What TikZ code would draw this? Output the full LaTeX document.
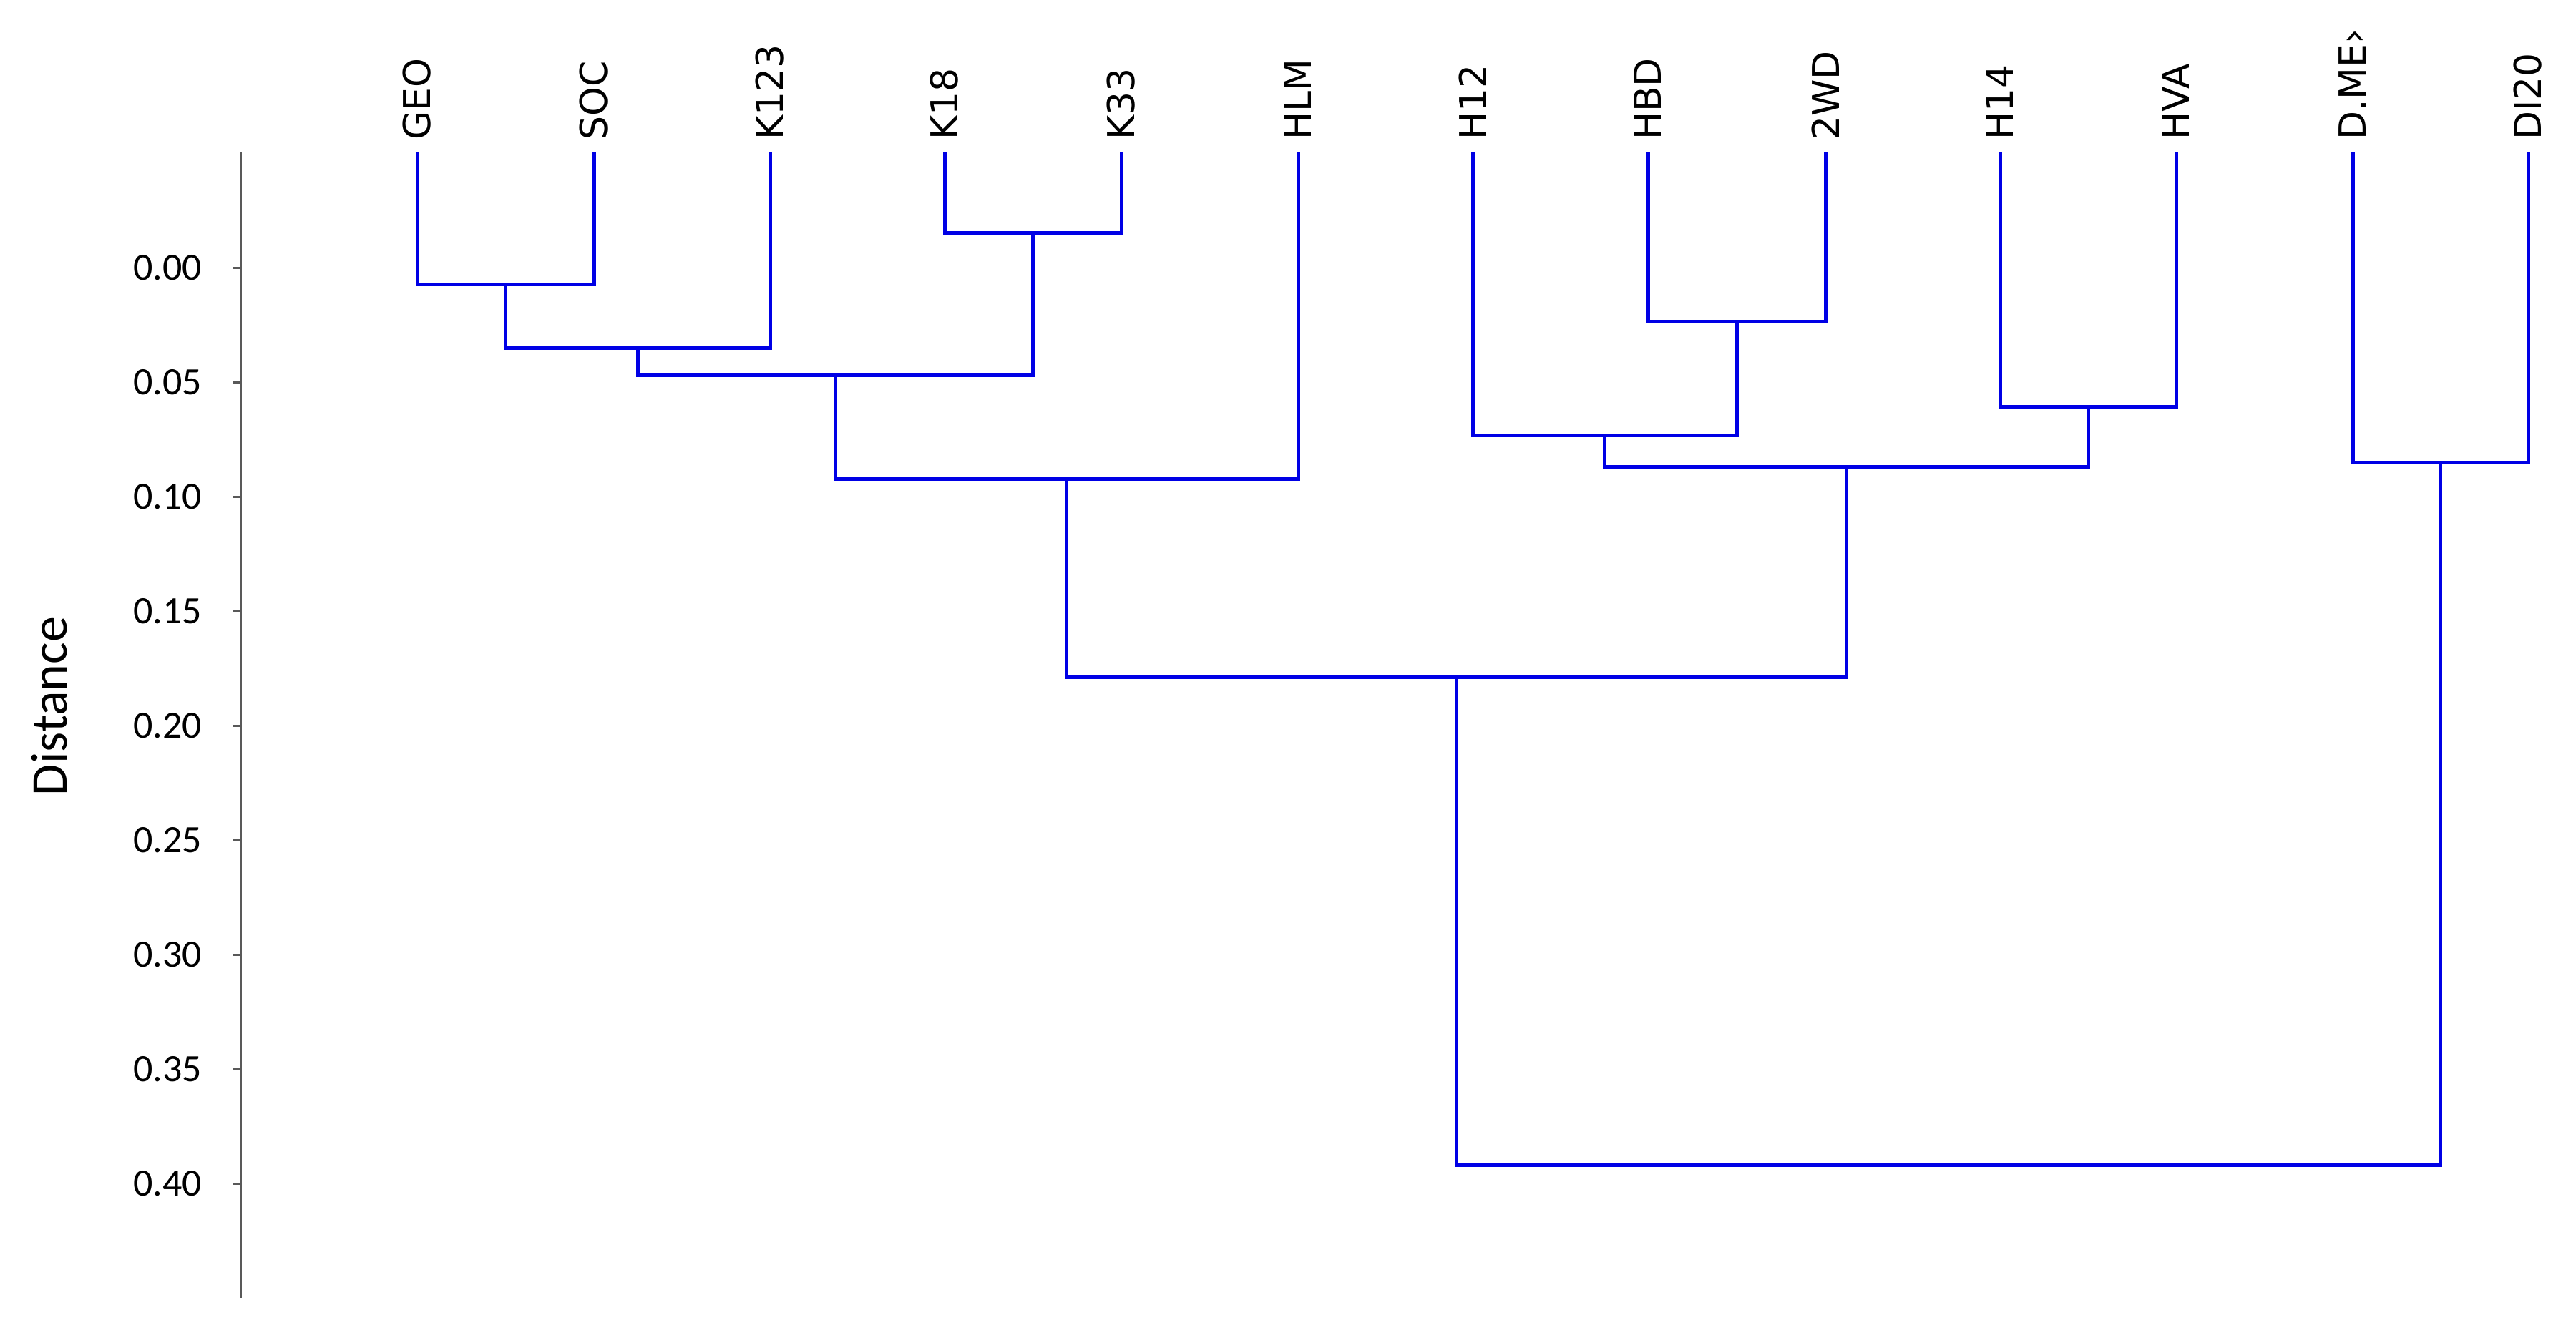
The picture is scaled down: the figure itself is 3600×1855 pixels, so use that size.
\documentclass[tikz,border=0pt]{standalone}
\usepackage{fontspec}
\setmainfont{DejaVu Sans}
\newfontfamily\tickfont{Carlito}
\begin{document}
\begin{tikzpicture}[x=1pt,y=-1pt,
  br/.style={draw=blue!90!black,line width=5pt},
  leaf/.style={rotate=90,anchor=west,inner sep=0pt,font=\fontsize{52}{52}\selectfont},
  tick/.style={anchor=east,inner sep=0pt,font=\tickfont\fontsize{54}{54}\selectfont}]
\path[use as bounding box] (0,0) rectangle (3600,1855);
% axis
\draw[gray!70!black,line width=3pt] (336,213) -- (336,1814);
\foreach \v/\l [count=\i from 0] in {0.00,0.05,0.10,0.15,0.20,0.25,0.30,0.35,0.40}{
  \draw[gray!70!black,line width=3pt] (326,374+160*\i) -- (336,374+160*\i);
  \node[tick] (t\i) at (282,374+160*\i) {\v};
}
\node[rotate=90,font=\tickfont\fontsize{72}{72}\selectfont] (dist) at (69,987) {Distance};
% leaves
\foreach \n/\x/\t in {geo/583/GEO,soc/830/SOC,k123/1076/K123,k18/1320/K18,k33/1567/K33,hlm/1814/HLM,h12/2058/H12,hbd/2303/HBD,wd/2551/2WD,h14/2795/H14,hva/3041/HVA,dme/3288/D.ME›,di/3533/DI20}{
  \coordinate (\n) at (\x,213);
  \node[leaf] (l\n) at (\x,196) {\t};
}
% merges
\coordinate (m1) at (706,397);
\coordinate (m2) at (1443,325);
\coordinate (m3) at (891,486);
\coordinate (m4) at (1167,524);
\coordinate (m5) at (1490,669);
\coordinate (m6) at (2427,449);
\coordinate (m7) at (2242,608);
\coordinate (m8) at (2918,568);
\coordinate (m9) at (2580,652);
\coordinate (m10) at (3410,646);
\coordinate (m11) at (2035,946);
\coordinate (m12) at (3410,1628);
\draw[br] (geo) |- (m1) -| (soc);
\draw[br] (k18) |- (m2) -| (k33);
\draw[br] (m1) |- (m3) -| (k123);
\draw[br] (m3) |- (m4) -| (m2);
\draw[br] (m4) |- (m5) -| (hlm);
\draw[br] (hbd) |- (m6) -| (wd);
\draw[br] (h12) |- (m7) -| (m6);
\draw[br] (h14) |- (m8) -| (hva);
\draw[br] (m7) |- (m9) -| (m8);
\draw[br] (dme) |- (m10) -| (di);
\draw[br] (m5) |- (m11) -| (m9);
\draw[br] (m11) |- (m12) -| (m10);
\end{tikzpicture}
\end{document}
